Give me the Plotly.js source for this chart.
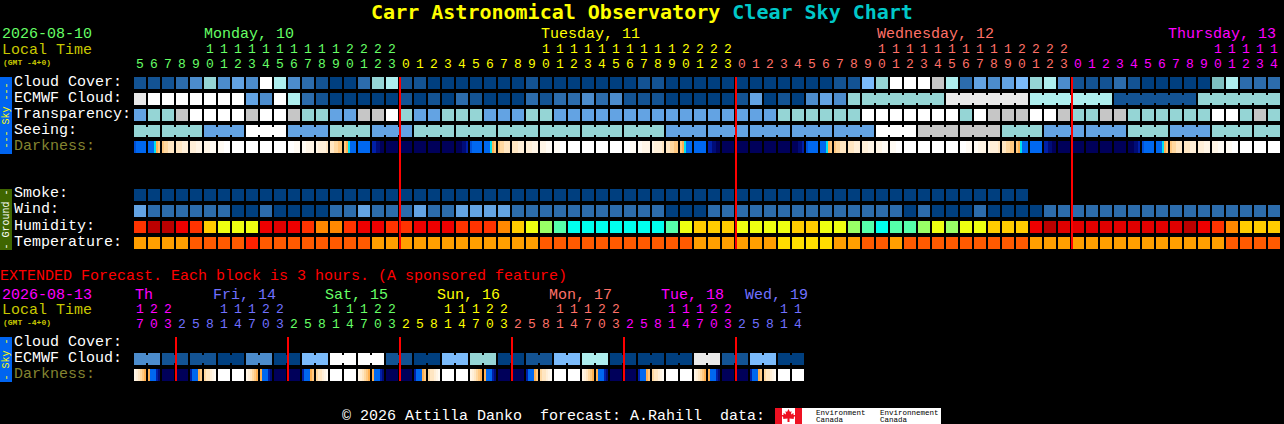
<!DOCTYPE html>
<html>
<head>
<meta charset="utf-8">
<script src="https://cdn.plot.ly/plotly-3.0.1.min.js"></script>
<style>html,body{margin:0;padding:0;background:#000;overflow:hidden}</style>
</head>
<body>
<div id="chart" style="width:1284px;height:424px"></div>
<script>
// ---- palettes ----
const skyPalette = ['#003f7f','#135393','#2c6cac','#4c8ccc','#63a3e3','#7bbbfb','#7fbfbf','#95d5d5','#aeeeee','#e9e9e9','#ffffff','#c6c6c6'];
const humidityPalette = ['#00ffee','#55ffaa','#99ff66','#eeff11','#ffcc00','#ff8800','#ff3300','#ee0000','#e00000','#bb0000'];
const temperaturePalette = ['#ffdd00','#ff9f00','#ff5a00','#ff2200'];
const darknessPalette = {W:'#ffffff',a:'#fffbf4',b:'#fff5e6',c:'#ffefd8',d:'#ffe6c2',e:'#ffd8a0',g:'#ffc880',f:'#ffb050',C:'#00e0f0',B:'#0068f0',M:'#0050d8',N:'#0020a8',n:'#000c78',K:'#00005a'};

// ---- main forecast rows (one value per hour) ----
const cloudCover = [1,1,1,2,3,7,3,4,3,10,8,3,2,1,0,0,2,7,8,1,1,
  0,0,0,0,0,0,0,1,0,0,0,0,0,0,0,1,1,0,0,0,0,0,0,0,0,0,0,0,0,1,1,
  5,7,10,10,10,11,8,2,4,3,4,5,7,8,3,1,1,1,2,1,0,0,0,0,0,6,8,2,2,2];
const ecmwfCloud = [9,10,10,10,10,10,10,10,4,3,10,8,2,1,0,0,0,0,0,1,0,
  1,0,2,1,0,0,0,2,1,2,2,3,2,3,1,1,1,0,0,0,0,0,1,4,0,1,0,3,4,3,7,
  7,7,7,7,7,7,9,9,9,9,9,9,8,8,8,8,8,8,1,1,1,1,1,1,7,7,7,7,7,7];
const ecmwfBlocks = [-1,-2,-3,-4,-5,-6,-7,-8,-9,-10,-11,-12,-13,-14,-15,-16,-17,-18,-19,-20,-21,
  -22,-23,-24,-25,-26,-27,-28,-29,-30,-31,-32,-33,-34,-35,-36,-37,-38,-39,-40,-41,-42,-43,-44,-45,-46,-47,-48,-49,-50,-51,-52,
  1,1,1,1,1,1,2,2,2,2,2,2,3,3,3,3,3,3,4,4,4,4,4,4,5,5,5,5,5,5];
const transparency = [4,7,7,11,10,10,10,10,11,10,10,11,7,7,4,4,11,11,10,7,4,
  4,7,7,7,4,4,4,7,7,4,4,4,4,4,4,4,4,4,4,4,4,4,4,4,4,7,7,7,7,7,7,
  10,10,10,10,10,10,10,7,10,11,11,11,10,10,11,7,7,11,11,7,7,7,7,7,7,10,10,7,11,7];
const seeing = [7,7,7,7,7,4,4,4,10,10,10,4,4,4,7,7,7,4,4,4,7,
  7,7,7,7,7,7,7,7,7,7,7,7,7,7,7,7,7,4,4,4,4,4,4,4,4,4,4,4,4,4,4,
  4,10,10,10,11,11,11,11,11,11,7,7,7,4,4,4,4,4,4,7,7,7,4,4,4,7,7,7,7,7];
const seeingBlocks = [1,1,2,2,2,3,3,3,4,4,4,5,5,5,6,6,6,7,7,7,8,8,8,9,9,9,10,10,10,11,11,11,12,12,12,13,13,13,14,14,14,15,15,15,16,16,16,17,17,17,18,18,18,19,19,19,20,20,20,21,21,21,22,22,22,23,23,23,24,24,24,25,25,25,26,26,26,27,27,27,28,28];
const darkness = ['MBBBBB','BBBCfg','geeddd','dddccc','cccbbb','bbbaaa','aaaWWW','WWWWWW','WWWWWW','WWWWWW','WWWWWW','WWWaaa','aabbbb','bccccd','ddeegg','gfCBBB','BBBBBB','NNnnKK','KKKKKK',
  'KKKKKK','KKKKKK','KKKKKK','KKKKKK','KKKnnN','MBBBBB','BBBCfg','geeddd','dddccc','cccbbb','bbbaaa','aaaWWW','WWWWWW','WWWWWW','WWWWWW','WWWWWW','WWWaaa','aabbbb','bccccd','ddeegg','gfCBBB','BBBBBB','NNnnKK','KKKKKK',
  'KKKKKK','KKKKKK','KKKKKK','KKKKKK','KKKnnN','MBBBBB','BBBCfg','geeddd','dddccc','cccbbb','bbbaaa','aaaWWW','WWWWWW','WWWWWW','WWWWWW','WWWWWW','WWWaaa','aabbbb','bccccd','ddeegg','gfCBBB','BBBBBB','NNnnKK','KKKKKK',
  'KKKKKK','KKKKKK','KKKKKK','KKKKKK','KKKnnN','MBBBBB','BBBCfg','geeddd','dddccc','cccbbb','bbbaaa','aaaWWW','WWWWWW','WWWWWW','WWWWWW'];
const smoke = [0,0,0,0,0,0,0,0,0,0,0,0,0,0,0,0,0,0,0,0,0,
  0,0,0,0,0,0,0,0,0,0,0,0,0,0,0,0,0,0,0,0,0,0,0,0,0,0,0,0,0,0,0,
  0,0,0,0,0,0,0,0,0,0,0,0,null,null,null,null,null,null,null,null,null,null,null,null,null,null,null,null,null,null];
const wind = [4,2,2,2,2,2,2,0,0,2,0,0,0,0,2,2,4,2,2,2,4,
  2,2,4,4,4,4,2,2,2,2,2,2,2,2,2,2,2,0,0,0,2,2,2,2,2,2,2,2,2,2,2,
  2,2,2,0,2,0,0,0,2,0,0,0,0,2,2,2,2,2,2,2,2,2,2,2,2,2,2,2,2,2];
const humidity = [6,9,9,7,6,4,3,3,3,7,8,7,6,5,5,6,7,7,6,6,7,
  7,7,6,6,6,5,4,3,2,1,0,0,0,0,0,0,0,1,3,4,4,4,3,3,3,3,4,4,3,3,2,
  1,0,1,1,2,3,2,3,3,4,4,4,7,9,8,8,8,8,8,8,8,8,8,9,7,6,5,4,4,4];
const temperature = [1,1,1,1,2,2,2,2,3,2,2,2,2,2,2,2,2,1,1,1,1,
  1,1,1,1,1,1,1,1,2,2,2,2,2,2,2,2,2,2,2,1,1,1,1,1,1,0,0,0,0,1,1,
  2,2,1,2,2,2,2,2,2,2,2,2,1,1,1,1,1,1,1,1,1,1,1,1,1,1,2,2,2,2];

// ---- extended forecast rows (one value per 3-hour column) ----
const extEcmwf = [3,3,1,1,1,1,0,0,3,3,0,0,5,5,10,10,10,10,1,1,0,0,5,5,7,7,0,0,1,1,5,5,8,8,0,0,0,0,0,0,9,9,1,1,5,5,0,0];
const extBlocks = [1,1,2,2,3,3,4,4,5,5,6,6,7,7,8,8,9,9,10,10,11,11,12,12,13,13,14,14,15,15,16,16,17,17,18,18,19,19,20,20,21,21,22,22,23,23,24,24];
const extDarkness = ['bcdegf','fBBBNn','KKKKKK','KKKKKK','NBBBfg','eddcba','WWWWWW','WWWWWW',
  'bcdegf','fBBBNn','KKKKKK','KKKKKK','NBBBfg','eddcba','WWWWWW','WWWWWW',
  'bcdegf','fBBBNn','KKKKKK','KKKKKK','NBBBfg','eddcba','WWWWWW','WWWWWW',
  'bcdegf','fBBBNn','KKKKKK','KKKKKK','NBBBfg','eddcba','WWWWWW','WWWWWW',
  'bcdegf','fBBBNn','KKKKKK','KKKKKK','NBBBfg','eddcba','WWWWWW','WWWWWW',
  'bcdegf','fBBBNn','KKKKKK','KKKKKK','NBBBfg','eddcba','WWWWWW','WWWWWW'];

// ---- hour labels ----
const mainDigits = '5678901234567890123'+'012345678901234567890123'+'012345678901234567890123'+'012345678901234';
const mainTens   = '     11111111112222'+'          11111111112222'+'          11111111112222'+'          11111';
const mainDaySpans = [19,24,24,15];
const mainDayColors = ['#66ff66','#ffff00','#ff7068','#ff00ff'];
const extDigits = '703'+'25814703'+'25814703'+'25814703'+'25814703'+'25814703'+'25814';
const extTens   = '122'+'   11122'+'   11122'+'   11122'+'   11122'+'   11122'+'   11';
const extDaySpans = [3,8,8,8,8,8,5];
const extDayColors = ['#ff00ff','#7070ff','#66ff66','#ffff00','#ff7068','#ff00ff','#7070ff'];
const midnightCols = [19,43,67];
const extMidnightCols = [3,11,19,27,35,43];

// ---- geometry constants ----
const W = 1284, H = 424, LEFT = 134, PITCH = 14, CELL = 12;
const MONO = '"Liberation Mono", monospace';
const TITLEFONT = '"DejaVu Sans Mono", monospace';
const traces = [];

function addRow(values, top, palette, blocks) {
  const xs = [], cols = [];
  values.forEach((v, i) => { if (v !== null) { xs.push(i); cols.push(palette[v]); } });
  traces.push({type:'bar', x:xs, y:xs.map(() => CELL), base:xs.map(() => top), width:CELL/PITCH, offset:0,
    marker:{color:cols, line:{width:0}}, hoverinfo:'skip'});
  if (blocks) {
    const cx = [], cc = [];
    values.forEach((v, i) => { if (i+1 < values.length && blocks[i] === blocks[i+1]) { cx.push(i + CELL/PITCH); cc.push(palette[v]); } });
    traces.push({type:'bar', x:cx, y:cx.map(() => 8), base:cx.map(() => top+2), width:(PITCH-CELL)/PITCH, offset:0,
      marker:{color:cc, line:{width:0}}, hoverinfo:'skip'});
  }
}
function addDarkness(values, top) {
  const xs = [], cols = [];
  values.forEach((s, i) => { s.split('').forEach((c, k) => { xs.push(i + k*2/PITCH); cols.push(darknessPalette[c]); }); });
  traces.push({type:'bar', x:xs, y:xs.map(() => CELL), base:xs.map(() => top), width:2/PITCH, offset:0,
    marker:{color:cols, line:{width:0}}, hoverinfo:'skip'});
}
function addLabels(str, spans, colors, y) {
  let start = 0;
  spans.forEach((n, d) => {
    const xs = [], ts = [];
    for (let i = start; i < start+n; i++) if (str[i] !== ' ') { xs.push(i + CELL/2/PITCH); ts.push(str[i]); }
    traces.push({type:'scatter', mode:'text', x:xs, y:xs.map(() => y), text:ts, textposition:'middle center',
      textfont:{family:MONO, size:13, color:colors[d]}, hoverinfo:'skip', cliponaxis:false});
    start += n;
  });
}
function addRedLines(cols, y0, y1) {
  cols.forEach(c => traces.push({type:'scatter', mode:'lines', x:[c,c], y:[y0,y1], line:{color:'#ff0000', width:2}, hoverinfo:'skip'}));
}

addRow(cloudCover, 77, skyPalette);
addRow(ecmwfCloud, 93, skyPalette, ecmwfBlocks);
addRow(transparency, 109, skyPalette);
addRow(seeing, 125, skyPalette, seeingBlocks);
addDarkness(darkness, 141);
addRow(smoke, 189, skyPalette);
addRow(wind, 205, skyPalette);
addRow(humidity, 221, humidityPalette);
addRow(temperature, 237, temperaturePalette);
addRow(extEcmwf, 353, skyPalette, extBlocks);
addDarkness(extDarkness, 369);
addRedLines(midnightCols, 77, 249);
addRedLines(extMidnightCols, 337, 381);
addLabels(mainDigits, mainDaySpans, mainDayColors, 65);
addLabels(mainTens, mainDaySpans, mainDayColors, 50);
addLabels(extDigits, extDaySpans, extDayColors, 325);
addLabels(extTens, extDaySpans, extDayColors, 310);

// ---- text ----
const fx = p => p / W, fy = p => 1 - p / H;
function note(text, x, y, color, size, opts) {
  return Object.assign({text, xref:'paper', yref:'paper', x:fx(x), y:fy(y), xanchor:'left', yanchor:'middle',
    showarrow:false, borderpad:0, borderwidth:0, font:{family:MONO, size:size||15, color}}, opts||{});
}
const LOCAL = '#c8c800', DARK = '#848430', WHITE = '#ffffff';
const annotations = [
  note('2026-08-10', 2, 35, '#66ff66'), note('Local Time', 2, 50, LOCAL), note('(GMT -4+0)', 3, 62, LOCAL, 8, {font:{family:MONO,size:8,color:LOCAL,weight:700}}),
  note('Monday, 10', 204, 35, mainDayColors[0]), note('Tuesday, 11', 541, 35, mainDayColors[1]),
  note('Wednesday, 12', 877, 35, mainDayColors[2]), note('Thursday, 13', 1168, 35, mainDayColors[3]),
  note('Cloud Cover:', 14, 82, WHITE), note('ECMWF Cloud:', 14, 98, WHITE), note('Transparency:', 14, 114, WHITE),
  note('Seeing:', 14, 130, WHITE), note('Darkness:', 14, 146, DARK),
  note('Smoke:', 14, 194, WHITE), note('Wind:', 14, 210, WHITE), note('Humidity:', 14, 226, WHITE), note('Temperature:', 14, 242, WHITE),
  note('EXTENDED Forecast. Each block is 3 hours. (A sponsored feature)', 0, 276, '#ff0000'),
  note('2026-08-13', 2, 295, '#ff00ff'), note('Local Time', 2, 310, LOCAL), note('(GMT -4+0)', 3, 322, LOCAL, 8, {font:{family:MONO,size:8,color:LOCAL,weight:700}}),
  note('Th', 135, 295, extDayColors[0]), note('Fri, 14', 213, 295, extDayColors[1]), note('Sat, 15', 325, 295, extDayColors[2]),
  note('Sun, 16', 437, 295, extDayColors[3]), note('Mon, 17', 549, 295, extDayColors[4]), note('Tue, 18', 661, 295, extDayColors[5]), note('Wed, 19', 745, 295, extDayColors[6]),
  note('Cloud Cover:', 14, 342, WHITE), note('ECMWF Cloud:', 14, 358, WHITE), note('Darkness:', 14, 374, DARK),
  note('© 2026 Attilla Danko  forecast: A.Rahill  data:', 342, 416, WHITE),
  note('--- Sky ---', 6, 115.5, '#ffff00', 10, {textangle:-90, xanchor:'center'}),
  note('- Ground -', 6, 219.5, WHITE, 10, {textangle:-90, xanchor:'center'}),
  note('- Sky -', 6, 359.5, '#ffff00', 10, {textangle:-90, xanchor:'center'}),
  note('Environment', 816, 412.5, '#000000', 7.5),
  note('Canada', 816, 420, '#000000', 7.5),
  note('Environnement', 880, 412.5, '#000000', 7.5),
  note('Canada', 880, 420, '#000000', 7.5)
];

// ---- decoration ----
function box(x0, y0, x1, y1, color) {
  return {type:'rect', xref:'paper', yref:'paper', x0:fx(x0), x1:fx(x1), y0:fy(y0), y1:fy(y1), fillcolor:color, line:{width:0}, layer:'below'};
}
const leaf = [[0,-7],[1.5,-4],[3,-5],[2.5,-1.5],[5,-3],[5,-1],[7,-1],[5,2],[5.5,3],[1,2.5],[1,6],[-1,6],[-1,2.5],[-5.5,3],[-5,2],[-7,-1],[-5,-1],[-5,-3],[-2.5,-1.5],[-3,-5],[-1.5,-4]];
const leafPath = 'M' + leaf.map(p => fx(788.5+p[0]) + ' ' + fy(416+p[1])).join(' L') + ' Z';
const shapes = [
  box(0, 77, 12, 154, '#0064f0'), box(0, 189, 12, 250, '#3f6600'), box(0, 337, 12, 382, '#0064f0'),
  box(775, 408, 941, 424, '#ffffff'), box(775, 408, 782, 424, '#ee1122'), box(795, 408, 802, 424, '#ee1122'),
  {type:'path', xref:'paper', yref:'paper', path:leafPath, fillcolor:'#ee1122', line:{width:0}, layer:'below'}
];

const layout = {
  width:W, height:H, margin:{l:0,r:0,t:0,b:0,pad:0}, paper_bgcolor:'#000', plot_bgcolor:'#000', showlegend:false, barmode:'overlay',
  title:{text:'Carr Astronomical Observatory <span style="color:#00c8c8">Clear Sky Chart</span>', x:0.5, xanchor:'center', y:fy(12), yanchor:'middle',
    font:{family:TITLEFONT, size:20, color:'#ffff00', weight:700}},
  xaxis:{range:[-LEFT/PITCH, (W-LEFT)/PITCH], visible:false, fixedrange:true},
  yaxis:{range:[H,0], visible:false, fixedrange:true},
  annotations, shapes
};
Plotly.newPlot('chart', traces, layout, {staticPlot:true, displayModeBar:false});
</script>
</body>
</html>
